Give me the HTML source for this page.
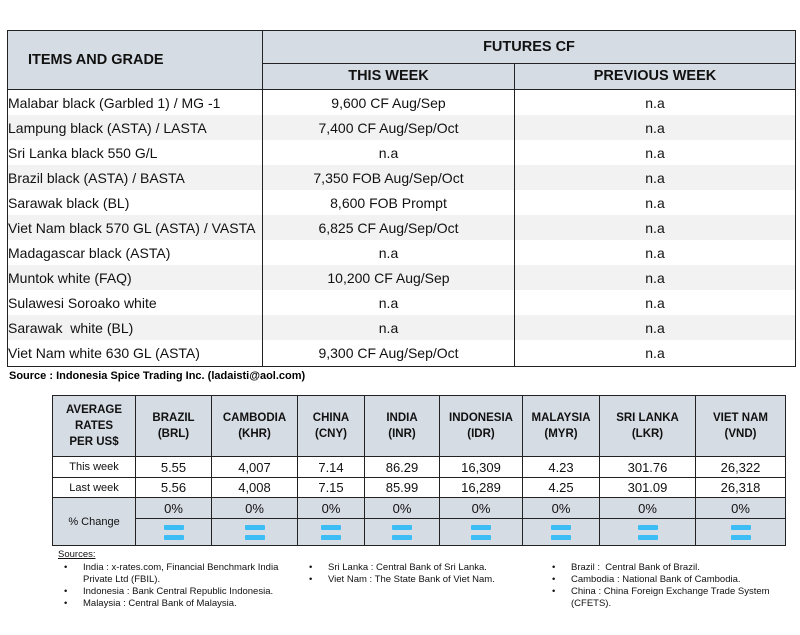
<!DOCTYPE html>
<html><head><meta charset="utf-8"><style>
body{margin:0;width:800px;height:635px;background:#fff;font-family:"Liberation Sans",sans-serif;position:relative;overflow:hidden}
table{border-collapse:collapse;position:absolute;table-layout:fixed}
td{padding:0;color:#111}
#t1{left:7px;top:30px;width:788px}
#t1 td{border:1.5px solid #222;font-size:14px;height:25px;text-align:center;border-top:none;border-bottom:none}
#t1 .h td{background:#d6dce4;font-weight:bold;font-size:14.5px;border:1.5px solid #222}
#t1 td.l{text-align:left;padding-left:0}
#t1 tr.g td{background:#f2f2f2}
#t1 tr.last td{border-bottom:1.5px solid #222;height:26px}
#src{position:absolute;left:9px;top:370px;font-size:11px;font-weight:bold}
#t2{left:52px;top:395px;width:733px}
#t2 td{border:1.5px solid #222;text-align:center;font-size:13px;background:#fff}
#t2 .h td{background:#d6dce4;font-weight:bold;font-size:11.5px;line-height:16px;height:60px}
#t2 .lab{font-size:11px}
#t2 .pc td{background:#d6dce4}
.eq{display:inline-block;width:20px;height:5px;background:#3dbdf5;border-radius:1px;box-shadow:0 10px 0 #3dbdf5;margin-bottom:10px;vertical-align:middle}
#s{position:absolute;top:549px;font-size:9.5px;color:#111;line-height:12px}
#s ul{margin:0;padding:0;list-style:none}
#s li{position:relative;padding-left:25px}
#s li:before{content:"•";position:absolute;left:6px}
</style></head><body>
<table id="t1">
<colgroup><col style="width:255px"><col style="width:252px"><col style="width:281px"></colgroup>
<tr class="h"><td rowspan="2" style="text-align:left;padding-left:20px;height:58px">ITEMS AND GRADE</td><td colspan="2" style="height:31px">FUTURES CF</td></tr>
<tr class="h"><td style="height:24px">THIS WEEK</td><td>PREVIOUS WEEK</td></tr>
<tr><td class="l">Malabar black (Garbled 1) / MG -1</td><td>9,600 CF Aug/Sep</td><td>n.a</td></tr>
<tr class="g"><td class="l">Lampung black (ASTA) / LASTA</td><td>7,400 CF Aug/Sep/Oct</td><td>n.a</td></tr>
<tr><td class="l">Sri Lanka black 550 G/L</td><td>n.a</td><td>n.a</td></tr>
<tr class="g"><td class="l">Brazil black (ASTA) / BASTA</td><td>7,350 FOB Aug/Sep/Oct</td><td>n.a</td></tr>
<tr><td class="l">Sarawak black (BL)</td><td>8,600 FOB Prompt</td><td>n.a</td></tr>
<tr class="g"><td class="l">Viet Nam black 570 GL (ASTA) / VASTA</td><td>6,825 CF Aug/Sep/Oct</td><td>n.a</td></tr>
<tr><td class="l">Madagascar black (ASTA)</td><td>n.a</td><td>n.a</td></tr>
<tr class="g"><td class="l">Muntok white (FAQ)</td><td>10,200 CF Aug/Sep</td><td>n.a</td></tr>
<tr><td class="l">Sulawesi Soroako white</td><td>n.a</td><td>n.a</td></tr>
<tr class="g"><td class="l">Sarawak&nbsp; white (BL)</td><td>n.a</td><td>n.a</td></tr>
<tr class="last"><td class="l">Viet Nam white 630 GL (ASTA)</td><td>9,300 CF Aug/Sep/Oct</td><td>n.a</td></tr>
</table>
<div id="src">Source : Indonesia Spice Trading Inc. (ladaisti@aol.com)</div>
<table id="t2">
<colgroup><col style="width:83px"><col style="width:76px"><col style="width:86px"><col style="width:67px"><col style="width:75px"><col style="width:83px"><col style="width:77px"><col style="width:96px"><col style="width:90px"></colgroup>
<tr class="h"><td>AVERAGE<br>RATES<br>PER US$</td><td>BRAZIL<br>(BRL)</td><td>CAMBODIA<br>(KHR)</td><td>CHINA<br>(CNY)</td><td>INDIA<br>(INR)</td><td>INDONESIA<br>(IDR)</td><td>MALAYSIA<br>(MYR)</td><td>SRI LANKA<br>(LKR)</td><td>VIET NAM<br>(VND)</td></tr>
<tr style="height:21px"><td class="lab">This week</td><td>5.55</td><td>4,007</td><td>7.14</td><td>86.29</td><td>16,309</td><td>4.23</td><td>301.76</td><td>26,322</td></tr>
<tr style="height:20px"><td class="lab">Last week</td><td>5.56</td><td>4,008</td><td>7.15</td><td>85.99</td><td>16,289</td><td>4.25</td><td>301.09</td><td>26,318</td></tr>
<tr class="pc" style="height:21px"><td rowspan="2" style="font-size:11px;background:#d6dce4">% Change</td><td>0%</td><td>0%</td><td>0%</td><td>0%</td><td>0%</td><td>0%</td><td>0%</td><td>0%</td></tr>
<tr class="pc" style="height:27px"><td><span class="eq"></span></td><td><span class="eq"></span></td><td><span class="eq"></span></td><td><span class="eq"></span></td><td><span class="eq"></span></td><td><span class="eq"></span></td><td><span class="eq"></span></td><td><span class="eq"></span></td></tr>
</table>
<div id="s" style="left:58px"><div style="text-decoration:underline;margin-bottom:1px">Sources:</div>
<ul><li>India : x-rates.com, Financial Benchmark India<br>Private Ltd (FBIL).</li><li>Indonesia : Bank Central Republic Indonesia.</li><li>Malaysia : Central Bank of Malaysia.</li></ul></div>
<div id="s" style="left:303px;top:562px"><ul><li>Sri Lanka : Central Bank of Sri Lanka.</li><li>Viet Nam : The State Bank of Viet Nam.</li></ul></div>
<div id="s" style="left:546px;top:562px"><ul><li>Brazil :&nbsp; Central Bank of Brazil.</li><li>Cambodia : National Bank of Cambodia.</li><li>China : China Foreign Exchange Trade System<br>(CFETS).</li></ul></div>
</body></html>
